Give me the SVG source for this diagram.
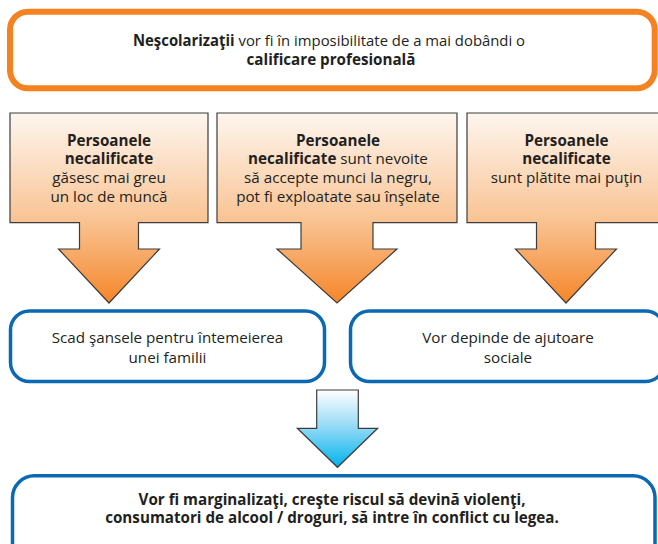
<svg xmlns="http://www.w3.org/2000/svg" width="658" height="544" viewBox="0 0 658 544">
<defs>
<linearGradient id="og" x1="0" y1="113" x2="0" y2="303" gradientUnits="userSpaceOnUse">
<stop offset="0" stop-color="#fef6ef"/>
<stop offset="0.55" stop-color="#f9c596"/>
<stop offset="1" stop-color="#f5862a"/>
</linearGradient>
<linearGradient id="bg" x1="0" y1="390" x2="0" y2="467" gradientUnits="userSpaceOnUse">
<stop offset="0" stop-color="#ffffff"/>
<stop offset="0.5" stop-color="#8fd8f5"/>
<stop offset="1" stop-color="#00b3ec"/>
</linearGradient>
<style>
.t{font-family:"Open Sans","Noto Sans","Liberation Sans",sans-serif;font-size:15.2px;fill:#231f20;text-anchor:middle;font-variant-ligatures:none}
.b{font-weight:bold}
.arr{fill:url(#og);stroke:#3c3c3c;stroke-width:1.2}
.blue{fill:#fff;stroke:#0b68b3;stroke-width:3.5}
</style>
</defs>
<rect width="658" height="544" fill="#fff"/>

<g id="top">
<rect x="10" y="11.7" width="644.7" height="76.6" rx="18" fill="#fff" stroke="#f58220" stroke-width="6"/>
<text class="t" x="329" y="46.4" textLength="392" lengthAdjust="spacingAndGlyphs"><tspan class="b">Neşcolarizaţii</tspan> vor fi în imposibilitate de a mai dobândi o</text>
<text class="t b" x="331" y="65.1">calificare profesională</text>
</g>

<g id="a1">
<path class="arr" d="M10,113 H208 V222.7 H138.5 V249 H159.5 L109,303 L58.5,249 H79.5 V222.7 H10 Z"/>
<text class="t b" x="109" y="145.7">Persoanele</text>
<text class="t b" x="109" y="164.3">necalificate</text>
<text class="t" x="109" y="183">găsesc mai greu</text>
<text class="t" x="109" y="201.5">un loc de muncă</text>
</g>

<g id="a2">
<path class="arr" d="M217,113 H457 V222.7 H373 V249 H397 L337,303 L277,249 H301 V222.7 H217 Z"/>
<text class="t b" x="338" y="145.7">Persoanele</text>
<text class="t" x="338" y="164.3"><tspan class="b">necalificate</tspan> sunt nevoite</text>
<text class="t" x="338" y="183">să accepte munci la negru,</text>
<text class="t" x="338" y="201.5">pot fi exploatate sau înşelate</text>
</g>

<g id="a3">
<path class="arr" d="M467,113 H665 V222.7 H595.5 V249 H616.5 L566,303 L515.5,249 H536.5 V222.7 H467 Z"/>
<text class="t b" x="566.5" y="145.7">Persoanele</text>
<text class="t b" x="566.5" y="164.3">necalificate</text>
<text class="t" x="566.5" y="183">sunt plătite mai puţin</text>
</g>

<g id="b1">
<rect class="blue" x="10.5" y="311" width="314" height="70.5" rx="19"/>
<text class="t" x="167.5" y="343">Scad şansele pentru întemeierea</text>
<text class="t" x="167.5" y="362.5">unei familii</text>
</g>

<g id="b2">
<rect class="blue" x="350.5" y="311" width="314" height="70.5" rx="19"/>
<text class="t" x="508" y="343">Vor depinde de ajutoare</text>
<text class="t" x="508" y="362.5">sociale</text>
</g>

<g id="connectors">
<path d="M316.7,390 H358.3 V428.3 H377.7 L337.5,467.3 L297.3,428.3 H316.7 Z" fill="url(#bg)" stroke="#3c3c3c" stroke-width="1.2"/>
</g>

<g id="bottom">
<rect class="blue" x="12.5" y="475.7" width="642.5" height="90" rx="22"/>
<text class="t b" x="332" y="504.8">Vor fi marginalizaţi, creşte riscul să devină violenţi,</text>
<text class="t b" x="332" y="523.4">consumatori de alcool / droguri, să intre în conflict cu legea.</text>
</g>
</svg>
